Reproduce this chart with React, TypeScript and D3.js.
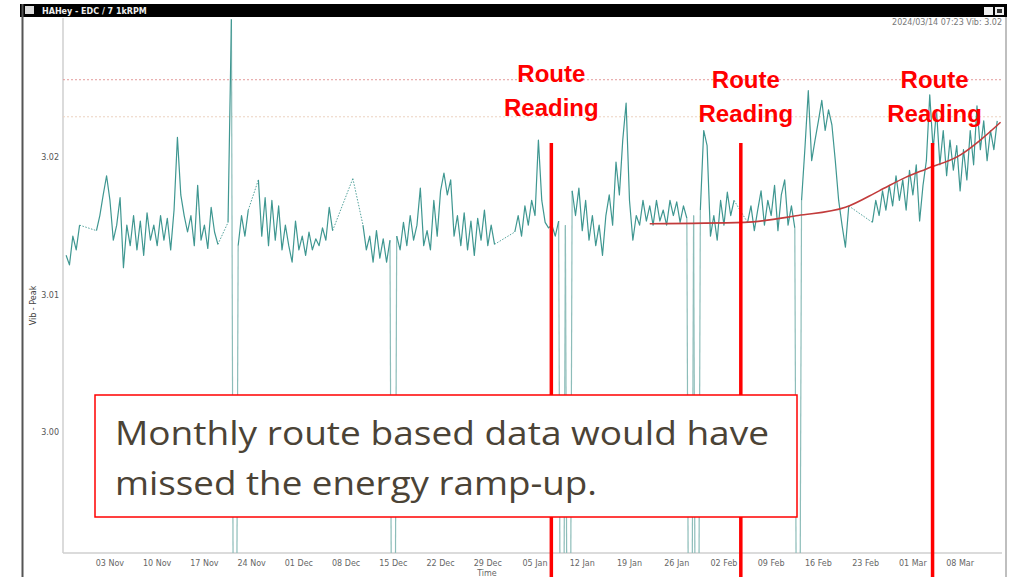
import * as d3 from "d3";

const WIDTH = 1012;
const HEIGHT = 577;
const PLOT = { left: 63, right: 1002, top: 18, bottom: 553 };

const parse = d3.timeParse("%Y-%m-%d %H:%M");

// time window shown on the x axis
const DOMAIN_START = parse("2023-10-27 01:00")!;
const DOMAIN_END = parse("2024-03-14 05:00")!;
const SERIES_START = parse("2023-10-27 12:00")!;
const SAMPLE_HOURS = 12;

const Y_DOMAIN = [2.9912, 3.0302];
const Y_TICKS = [3.0, 3.01, 3.02];
const ALARM_LIMITS = [3.0257, 3.023];

// vib peak, one sample every 12h (null = no data, 2.95 = sensor dropout)
const peakValues: (number | null)[] = [
  3.0129, 3.0122, 3.0143, 3.0133, 3.0151, null, null, null, null, 3.0147,
  3.0158, 3.0173, 3.0187, 3.0169, 3.014, 3.0151, 3.0171, 3.012, 3.0151, 3.0136,
  3.0158, 3.0133, 3.0154, 3.0129, 3.016, 3.014, 3.0151, 3.0136, 3.0158, 3.014,
  3.0156, 3.0133, 3.0162, 3.0215, 3.0173, 3.0158, 3.0146, 3.0158, 3.0136, 3.018,
  3.014, 3.0151, 3.0134, 3.0164, 3.0146, 3.0137, null, null, 3.0153, 3.0301,
  2.95, 3.0136, 3.0158, 3.0143, 3.0162, null, null, 3.0184, 3.0143, 3.0171,
  3.0136, 3.0169, 3.014, 3.0165, 3.0133, 3.0151, 3.0136, 3.0124, 3.0154, 3.0133,
  3.0143, 3.0129, 3.0146, 3.0133, 3.0141, 3.0136, 3.0149, 3.014, 3.0164, 3.0147,
  null, null, null, null, null, 3.0185, null, null, 3.0151, 3.0133,
  3.0143, 3.0124, 3.0147, 3.0127, 3.0141, 3.0124, 3.014, 2.95, 3.0143, 3.0133,
  3.0153, 3.0136, 3.0158, 3.014, 3.0151, 3.0178, 3.0136, 3.0147, 3.0133, 3.0169,
  3.0143, 3.0176, 3.0189, 3.0173, 3.0184, 3.0143, 3.0158, 3.0136, 3.016, 3.0133,
  3.0154, 3.0129, 3.0156, 3.014, 3.0162, 3.0136, 3.0151, 3.0137, null, null,
  null, null, null, 3.0146, 3.0158, 3.0143, 3.0165, 3.0151, 3.0169, 3.0158,
  3.0213, 3.0169, 3.0153, 3.0149, 3.0151, 3.0143, 3.0154, 2.95, 3.0151, 2.95,
  3.0176, 3.0158, 3.0178, 3.0147, 3.0169, 3.014, 3.0158, 3.0136, 3.0151, 3.0129,
  3.0158, 3.0173, 3.0151, 3.0197, 3.0173, 3.0213, 3.024, 3.0169, 3.014, 3.0158,
  3.0151, 3.0169, 3.0154, 3.0165, 3.0151, 3.0169, 3.0154, 3.0162, 3.0151, 3.0169,
  3.0158, 3.0168, 3.0153, 3.0165, 3.0156, 2.95, 3.0158, 2.95, 3.0162, 3.022,
  3.0209, 3.0143, 3.0158, 3.014, 3.0169, 3.0151, 3.0175, 3.0158, 3.0169, null,
  null, null, 3.0153, 3.0165, 3.0147, 3.0162, 3.0176, 3.0151, 3.0169, 3.0158,
  3.018, 3.0147, 3.0173, 3.0184, 3.0151, 3.0165, 3.0149, 2.95, 3.0169, 3.0207,
  3.0249, 3.0198, 3.0213, 3.0227, 3.0242, 3.022, 3.0235, 3.0224, 3.0198, 3.0169,
  3.0151, 3.0135, 3.0165, null, null, null, null, null, null, 3.0153,
  3.0169, 3.0158, 3.0176, 3.0162, 3.018, 3.0165, 3.0187, 3.0169, 3.0184, 3.0162,
  3.0191, 3.0173, 3.0195, 3.0154, 3.018, 3.0198, 3.0246, 3.0206, 3.0235, 3.0195,
  3.022, 3.0187, 3.0213, 3.0191, 3.0209, 3.0176, 3.0206, 3.0184, 3.022, 3.0195,
  3.0238, 3.0206, 3.0227, 3.0198, 3.022, 3.0206, 3.0227,
];

// red trend fitted over the last weeks
const trendDates = [
  "2024-01-22 00:00", "2024-02-05 00:00", "2024-02-13 00:00", "2024-02-20 00:00",
  "2024-02-25 00:00", "2024-02-29 00:00", "2024-03-03 00:00", "2024-03-08 00:00",
  "2024-03-11 00:00", "2024-03-14 00:00",
];
const trendValues = [3.0152, 3.0153, 3.0158, 3.0164, 3.0176, 3.0186, 3.0192, 3.0202, 3.0213, 3.0226];

const routeReadings = ["2024-01-07 10:00", "2024-02-04 12:00", "2024-03-03 22:00"];

const TEAL = "#3f9791";
const TEAL_LIGHT = "#8dbdb9";

type Pt = { t: Date; v: number | null };

function App() {
  const x = d3.scaleTime().domain([DOMAIN_START, DOMAIN_END]).range([PLOT.left, PLOT.right]);
  const y = d3.scaleLinear().domain(Y_DOMAIN).range([PLOT.bottom, PLOT.top]);

  const points: Pt[] = peakValues.map((v, i) => ({
    t: d3.timeHour.offset(SERIES_START, i * SAMPLE_HOURS),
    v,
  }));

  const isDrop = (v: number | null) => v !== null && v < Y_DOMAIN[0];

  const line = d3
    .line<Pt>()
    .defined((d) => d.v !== null && !isDrop(d.v))
    .x((d) => x(d.t))
    .y((d) => y(d.v as number));

  // dotted connectors across missing data, light strokes for dropouts
  const gaps: [Pt, Pt][] = [];
  const drops: [Pt, Pt][] = [];
  let last: { p: Pt; i: number } | null = null;
  points.forEach((p, i) => {
    if (p.v === null) return;
    if (isDrop(p.v)) {
      if (i > 0 && points[i - 1].v !== null) drops.push([points[i - 1], p]);
      if (i < points.length - 1 && points[i + 1].v !== null) drops.push([p, points[i + 1]]);
      return;
    }
    if (last && i - last.i > 1 && !isDrop(points[i - 1].v)) gaps.push([last.p, p]);
    last = { p, i };
  });

  const trend = trendDates.map((d, i) => ({ t: parse(d)!, v: trendValues[i] }));
  const trendLine = d3
    .line<{ t: Date; v: number }>()
    .x((d) => x(d.t))
    .y((d) => y(d.v))
    .curve(d3.curveMonotoneX);

  const xTicks = d3.timeDay.range(parse("2023-11-03 00:00")!, DOMAIN_END, 7);
  const fmt = d3.timeFormat("%d %b");

  const labelDx = [0, 5, 2];
  const labelDy = [0, 6, 6];

  return (
    <svg
      width={WIDTH}
      height={HEIGHT}
      style={{ position: "absolute", left: 0, top: 0, background: "white" }}
      fontFamily="DejaVu Sans, sans-serif"
    >
      <defs>
        <clipPath id="plot">
          <rect x={PLOT.left} y={PLOT.top} width={PLOT.right - PLOT.left} height={PLOT.bottom - PLOT.top} />
        </clipPath>
      </defs>

      {/* window chrome */}
      <rect x={20} y={4} width={987} height={13} fill="#000" />
      <rect x={25} y={6} width={9} height={8} fill="#ddd" />
      <text x={42} y={14} fontSize={8} fontWeight="bold" fill="#eee">
        HAHey - EDC / 7 1kRPM
      </text>
      <rect x={984} y={7} width={9} height={8} fill="#eee" />
      <rect x={995} y={7} width={9} height={8} fill="#eee" />
      <rect x={997} y={9} width={5} height={4} fill="#333" />
      <line x1={22.5} x2={22.5} y1={4} y2={HEIGHT} stroke="#555" strokeWidth={2} />
      <line x1={1006} x2={1006} y1={17} y2={HEIGHT} stroke="#aaa" strokeWidth={1.5} />
      <text x={1002} y={25} fontSize={8} fill="#777" textAnchor="end">
        2024/03/14 07:23 Vib: 3.02
      </text>

      {/* axes */}
      <line x1={PLOT.left} x2={PLOT.left} y1={PLOT.top} y2={PLOT.bottom} stroke="#cfcfcf" strokeWidth={1.5} />
      <line x1={PLOT.left} x2={PLOT.right} y1={PLOT.bottom} y2={PLOT.bottom} stroke="#cfcfcf" strokeWidth={1.5} />
      {Y_TICKS.map((t) => (
        <text key={t} x={PLOT.left - 4} y={y(t)} fontSize={8} fill="#555" textAnchor="end" dominantBaseline="middle">
          {t.toFixed(2)}
        </text>
      ))}
      <text
        transform={`translate(36,${(PLOT.top + PLOT.bottom) / 2 + 20}) rotate(-90)`}
        fontSize={8}
        fill="#444"
        textAnchor="middle"
      >
        Vib - Peak
      </text>
      {xTicks.map((t) => (
        <text key={+t} x={x(t)} y={566} fontSize={8} fill="#666" textAnchor="middle">
          {fmt(t)}
        </text>
      ))}
      <text x={487} y={576} fontSize={8} fill="#666" textAnchor="middle">
        Time
      </text>

      <g clipPath="url(#plot)">
        {ALARM_LIMITS.map((v, i) => (
          <line
            key={i}
            x1={PLOT.left}
            x2={PLOT.right}
            y1={y(v)}
            y2={y(v)}
            stroke={i === 0 ? "#e39a9a" : "#ecd2c0"}
            strokeWidth={1}
            strokeDasharray="2,2"
          />
        ))}
        {gaps.map(([a, b], i) => (
          <line
            key={i}
            x1={x(a.t)}
            y1={y(a.v as number)}
            x2={x(b.t)}
            y2={y(b.v as number)}
            stroke={TEAL}
            strokeWidth={0.9}
            strokeDasharray="1.5,1.5"
          />
        ))}
        {drops.map(([a, b], i) => (
          <line
            key={i}
            x1={x(a.t)}
            y1={y(a.v as number)}
            x2={x(b.t)}
            y2={y(b.v as number)}
            stroke={TEAL_LIGHT}
            strokeWidth={1.2}
          />
        ))}
        <path d={line(points) ?? ""} fill="none" stroke={TEAL} strokeWidth={1.2} strokeLinejoin="round" />
        <path d={trendLine(trend) ?? ""} fill="none" stroke="#c23b3b" strokeWidth={1.6} />
      </g>

      {/* route readings */}
      {routeReadings.map((d, i) => {
        const rx = x(parse(d)!);
        return (
          <g key={d}>
            <line x1={rx} x2={rx} y1={143} y2={HEIGHT} stroke="#ff0000" strokeWidth={3.5} />
            <text
              x={rx + labelDx[i]}
              y={82 + labelDy[i]}
              fontFamily="Liberation Sans, Arial, sans-serif"
              fontWeight="bold"
              fontSize={24}
              fill="#ff0000"
              textAnchor="middle"
            >
              Route
            </text>
            <text
              x={rx + labelDx[i]}
              y={116 + labelDy[i]}
              fontFamily="Liberation Sans, Arial, sans-serif"
              fontWeight="bold"
              fontSize={24}
              fill="#ff0000"
              textAnchor="middle"
            >
              Reading
            </text>
          </g>
        );
      })}

      {/* callout */}
      <rect x={95} y={395} width={702} height={122} fill="white" stroke="#ff0000" strokeWidth={1.5} />
      <text x={115} y={445} fontFamily="Open Sans, sans-serif" fontSize={32} fill="#4b4336" textLength={654} lengthAdjust="spacingAndGlyphs">
        Monthly route based data would have
      </text>
      <text x={115} y={495} fontFamily="Open Sans, sans-serif" fontSize={32} fill="#4b4336" textLength={482} lengthAdjust="spacingAndGlyphs">
        missed the energy ramp-up.
      </text>
    </svg>
  );
}

export default App;
